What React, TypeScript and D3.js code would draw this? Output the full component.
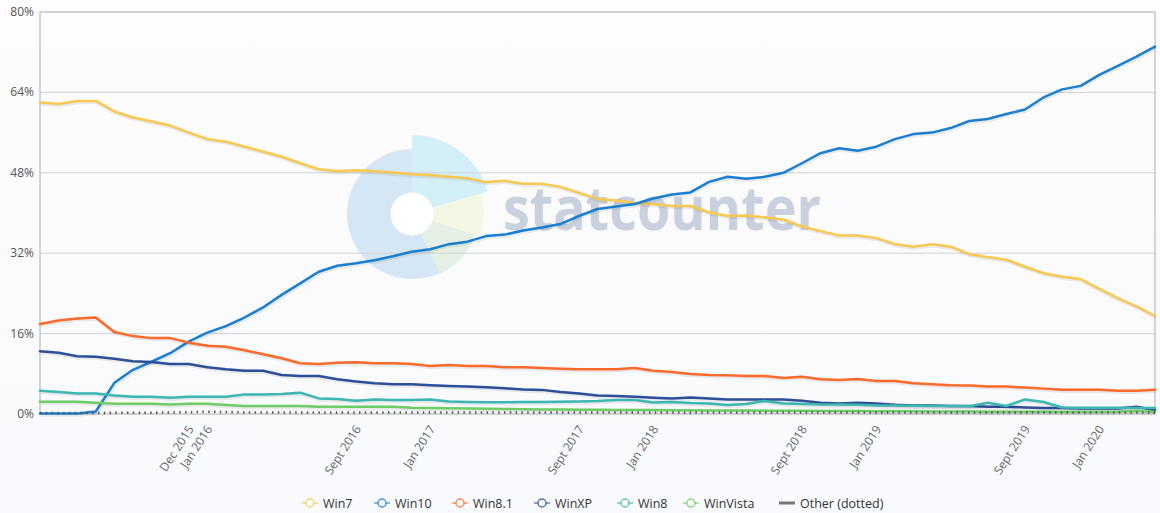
import React from "react";
import * as d3 from "d3";

// Monthly data, Apr 2015 .. Apr 2020 (61 points)
const months: string[] = d3
  .timeMonth.range(new Date(2015, 3, 1), new Date(2020, 4, 1))
  .map((d) => d3.timeFormat("%Y-%m")(d));

const win7 = [62.0, 61.7, 62.3, 62.3, 60.2, 59.0, 58.2, 57.4, 56.0, 54.7,
  54.2, 53.2, 52.2, 51.2, 49.9, 48.7, 48.3, 48.5, 48.3, 48.0,
  47.7, 47.5, 47.2, 46.9, 46.1, 46.4, 45.8, 45.8, 45.2, 44.0,
  42.8, 42.5, 42.0, 41.8, 41.4, 41.4, 40.1, 39.4, 39.5, 39.1,
  38.7, 37.3, 36.4, 35.5, 35.5, 35.0, 33.8, 33.3, 33.8, 33.3,
  31.8, 31.2, 30.7, 29.3, 28.0, 27.3, 26.8, 24.9, 23.0, 21.4, 19.5];
const win10 = [0.1, 0.1, 0.1, 0.5, 6.2, 8.8, 10.4, 12.1, 14.4, 16.2,
  17.5, 19.2, 21.2, 23.7, 26.0, 28.3, 29.5, 30.0, 30.6, 31.4,
  32.3, 32.8, 33.8, 34.3, 35.4, 35.7, 36.5, 37.1, 37.8, 39.4,
  40.8, 41.3, 41.8, 42.9, 43.7, 44.1, 46.2, 47.2, 46.8, 47.2,
  48.0, 49.9, 51.9, 52.9, 52.4, 53.2, 54.7, 55.7, 56.0, 56.9,
  58.3, 58.7, 59.7, 60.6, 63.0, 64.6, 65.3, 67.5, 69.3, 71.1, 73.1];
const win81 = [17.9, 18.6, 19.0, 19.2, 16.3, 15.5, 15.1, 15.1, 14.2, 13.6,
  13.4, 12.7, 11.9, 11.1, 10.1, 9.95, 10.2, 10.3, 10.1, 10.1,
  9.95, 9.55, 9.75, 9.55, 9.55, 9.3, 9.3, 9.15, 9.0, 8.9,
  8.9, 8.9, 9.15, 8.6, 8.35, 7.95, 7.75, 7.7, 7.55, 7.55,
  7.15, 7.4, 6.9, 6.75, 6.95, 6.55, 6.55, 6.1, 5.9, 5.7,
  5.65, 5.45, 5.45, 5.25, 5.05, 4.85, 4.85, 4.85, 4.65, 4.65, 4.85];
const winXP = [12.5, 12.2, 11.5, 11.4, 11.0, 10.5, 10.35, 9.95, 9.95, 9.3,
  8.9, 8.6, 8.6, 7.75, 7.55, 7.55, 6.9, 6.45, 6.1, 5.9,
  5.9, 5.7, 5.55, 5.45, 5.3, 5.1, 4.9, 4.8, 4.4, 4.1,
  3.7, 3.6, 3.45, 3.25, 3.1, 3.3, 3.1, 2.9, 2.9, 2.9,
  2.9, 2.65, 2.25, 2.1, 2.25, 2.1, 1.85, 1.7, 1.7, 1.6,
  1.6, 1.45, 1.45, 1.3, 1.2, 1.2, 1.1, 1.1, 1.1, 1.45, 0.8];
const win8 = [4.65, 4.4, 4.1, 4.1, 3.7, 3.45, 3.45, 3.25, 3.45, 3.45,
  3.45, 3.9, 3.9, 4.0, 4.25, 3.1, 3.0, 2.65, 2.9, 2.8,
  2.8, 2.9, 2.5, 2.4, 2.35, 2.35, 2.4, 2.4, 2.45, 2.5,
  2.6, 2.8, 2.8, 2.3, 2.4, 2.2, 2.1, 1.8, 2.0, 2.6,
  2.1, 2.0, 1.9, 1.9, 1.85, 1.7, 1.7, 1.65, 1.6, 1.6,
  1.55, 2.25, 1.6, 2.9, 2.4, 1.3, 1.25, 1.25, 1.25, 1.2, 1.2];
const winVista = [2.45, 2.45, 2.45, 2.25, 2.05, 2.05, 2.05, 1.9, 2.05, 2.05,
  1.8, 1.6, 1.6, 1.6, 1.6, 1.45, 1.45, 1.45, 1.45, 1.45,
  1.25, 1.2, 1.15, 1.1, 1.05, 1.0, 0.95, 0.9, 0.9, 0.85,
  0.85, 0.8, 0.8, 0.8, 0.75, 0.75, 0.7, 0.7, 0.7, 0.65,
  0.65, 0.65, 0.6, 0.6, 0.6, 0.55, 0.55, 0.55, 0.5, 0.5,
  0.5, 0.45, 0.45, 0.45, 0.45, 0.4, 0.4, 0.4, 0.45, 0.6, 0.4];
const other = [0.2, 0.2, 0.2, 0.2, 0.25, 0.25, 0.25, 0.3, 0.35, 0.45,
  0.4, 0.3, 0.3, 0.3, 0.3, 0.3, 0.3, 0.3, 0.3, 0.3,
  0.3, 0.3, 0.3, 0.3, 0.3, 0.3, 0.3, 0.3, 0.3, 0.3,
  0.3, 0.3, 0.3, 0.3, 0.3, 0.3, 0.3, 0.3, 0.3, 0.3,
  0.3, 0.3, 0.3, 0.3, 0.3, 0.3, 0.3, 0.3, 0.3, 0.3,
  0.3, 0.3, 0.3, 0.3, 0.3, 0.3, 0.3, 0.3, 0.3, 0.3, 0.3];

const seriesNames = ["Win7", "Win10", "Win8.1", "WinXP", "Win8", "WinVista", "Other (dotted)"];
const seriesValues = [win7, win10, win81, winXP, win8, winVista, other];
const seriesColors = ["#f9c94f", "#1a7fd2", "#ff6a2a", "#2e4f98", "#3cb7b1", "#6dcf63", "#555555"];

const yTicks = [0, 16, 32, 48, 64, 80];
const xTickLabels = [
  { month: "2015-12", label: "Dec 2015" },
  { month: "2016-01", label: "Jan 2016" },
  { month: "2016-09", label: "Sept 2016" },
  { month: "2017-01", label: "Jan 2017" },
  { month: "2017-09", label: "Sept 2017" },
  { month: "2018-01", label: "Jan 2018" },
  { month: "2018-09", label: "Sept 2018" },
  { month: "2019-01", label: "Jan 2019" },
  { month: "2019-09", label: "Sept 2019" },
  { month: "2020-01", label: "Jan 2020" },
];

const W = 1160;
const H = 513;
const L = 40, R = 1155, T = 12, B = 414;
const FONT = "'Open Sans', 'DejaVu Sans', sans-serif";

export default function App() {
  const x = d3.scaleLinear().domain([0, months.length - 1]).range([L, R]);
  const y = d3.scaleLinear().domain([0, 80]).range([B, T]);
  const line = d3.line<number>().x((_, i) => x(i)).y((d) => y(d));

  const cx = 412, cy = 214;
  const deg = Math.PI / 180;
  const arc = d3.arc();
  const wedges = [
    { s: 0, e: 73.5, r: 79, c: "#d3f0f9" },
    { s: 73.5, e: 108, r: 72, c: "#f4f7e3" },
    { s: 108, e: 155, r: 66, c: "#e3f0e3" },
    { s: 155, e: 360, r: 65, c: "#d5e7f5" },
  ];

  const legendX = [310, 382, 460, 542, 625, 691, 787];
  const legendY = 503;

  return (
    <div style={{ position: "absolute", left: 0, top: 0 }}>
      <svg width={W} height={H} style={{ display: "block" }}>
        <defs>
          <linearGradient id="bg" x1="0" y1="0" x2="0" y2="1">
            <stop offset="0" stopColor="#fefcfd" />
            <stop offset="1" stopColor="#f8fafd" />
          </linearGradient>
        </defs>
        <rect x={0} y={0} width={W} height={H} fill="url(#bg)" />

        {/* watermark */}
        <g>
          {wedges.map((w, i) => (
            <path
              key={i}
              transform={`translate(${cx},${cy})`}
              d={arc({ innerRadius: 0, outerRadius: w.r, startAngle: w.s * deg, endAngle: w.e * deg }) || ""}
              fill={w.c}
            />
          ))}
          <circle cx={cx} cy={cy} r={21.5} fill="#ffffff" />
          <text
            x={503}
            y={230}
            fontFamily={FONT}
            fontWeight={700}
            fontSize={60}
            textLength={318}
            lengthAdjust="spacingAndGlyphs"
            fill="#c9d1df"
          >
            statcounter
          </text>
        </g>

        {/* grid */}
        {yTicks.filter((t) => t > 0 && t < 80).map((t) => (
          <line key={t} x1={L} x2={R} y1={y(t)} y2={y(t)} stroke="#d2d2d2" strokeWidth={1} />
        ))}
        <rect x={L} y={T} width={R - L} height={B - T} fill="none" stroke="#adadad" strokeWidth={1} />

        {/* y labels */}
        {yTicks.map((t) => (
          <text
            key={t}
            x={34}
            y={y(t) + 4}
            textAnchor="end"
            fontFamily={FONT}
            fontSize={12}
            fill="#555"
          >
            {t}%
          </text>
        ))}

        {/* x labels */}
        {xTickLabels.map((d) => {
          const i = months.indexOf(d.month);
          const px = x(i) + 5.5;
          return (
            <text
              key={d.label}
              transform={`translate(${px},${429}) rotate(-57)`}
              textAnchor="end"
              fontFamily={FONT}
              fontSize={12}
              fill="#666"
            >
              {d.label}
            </text>
          );
        })}

        {/* series */}
        {seriesValues.map((vals, si) => {
          const d = line(vals) || "";
          const dotted = si === seriesValues.length - 1;
          return (
            <g key={seriesNames[si]}>
              {!dotted && (
                <path d={d} fill="none" stroke="#000" strokeOpacity={0.07} strokeWidth={4.5}
                  transform="translate(1,1)" strokeLinejoin="round" />
              )}
              <path
                d={d}
                fill="none"
                stroke={seriesColors[si]}
                strokeWidth={dotted ? 2.5 : 2.5}
                strokeDasharray={dotted ? "1.5,4.3" : undefined}
                strokeLinejoin="round"
                strokeLinecap={dotted ? "butt" : "round"}
              />
            </g>
          );
        })}

        {/* legend */}
        {seriesNames.map((name, i) => {
          const lx = legendX[i];
          const dotted = i === seriesNames.length - 1;
          return (
            <g key={name}>
              {dotted ? (
                <line x1={lx - 8} x2={lx + 8} y1={legendY} y2={legendY} stroke="#777" strokeWidth={3} />
              ) : (
                <>
                  <line x1={lx - 8} x2={lx + 8} y1={legendY} y2={legendY} stroke={seriesColors[i]} strokeWidth={1.5} strokeOpacity={0.7} />
                  <circle cx={lx} cy={legendY} r={4} fill="#ffffff" stroke={seriesColors[i]} strokeWidth={1.5} strokeOpacity={0.8} />
                </>
              )}
              <text
                x={lx + 13}
                y={legendY + 4.5}
                fontFamily={FONT}
                fontSize={12.5}
                fill="#333"
              >
                {name}
              </text>
            </g>
          );
        })}
      </svg>
    </div>
  );
}
